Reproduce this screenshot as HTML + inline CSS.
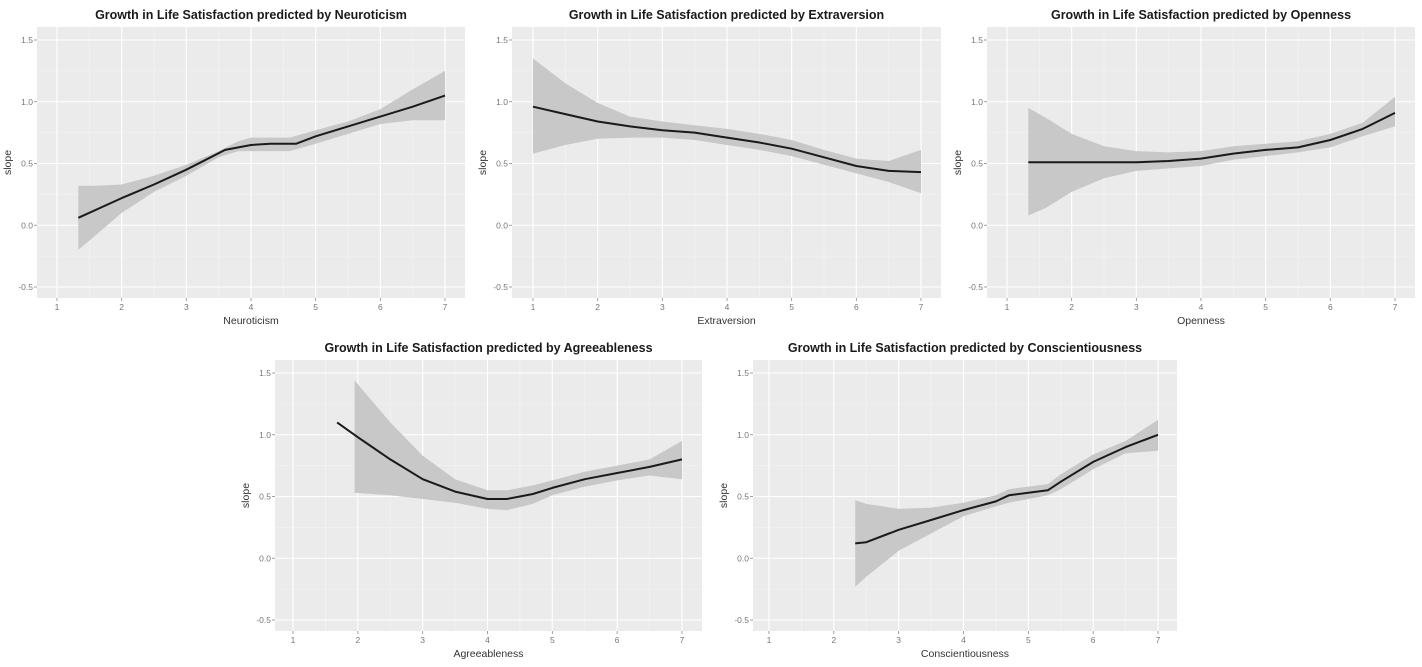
<!DOCTYPE html>
<html><head><meta charset="utf-8">
<style>
html,body{margin:0;padding:0;background:#fff;}
svg{display:block;font-family:"Liberation Sans",Arial,sans-serif;}
.title{font-size:12.5px;font-weight:bold;fill:#1a1a1a;}
.tick{font-size:8.5px;fill:#777;}
.atitle{font-size:10.5px;fill:#333;}
</style></head>
<body>
<svg id="chart" width="1422" height="667" viewBox="0 0 1422 667"></svg>
<script>
// ---- data (one set of small arrays per panel) ----
const neuroX = [1.33,2,2.5,3,3.3,3.6,4,4.3,4.7,5,5.5,6,6.5,7];
const neuroY = [0.06,0.22,0.33,0.45,0.53,0.61,0.65,0.66,0.66,0.72,0.80,0.88,0.96,1.05];
const neuroBandX = [1.33,1.6,2,2.5,3,3.5,3.8,4,4.6,5,5.5,6,6.5,7];
const neuroLo = [-0.2,-0.08,0.1,0.27,0.4,0.55,0.6,0.6,0.6,0.66,0.74,0.82,0.85,0.85];
const neuroHi = [0.32,0.32,0.33,0.40,0.49,0.60,0.68,0.71,0.71,0.77,0.84,0.94,1.10,1.25];

const extraX = [1,1.5,2,2.5,3,3.5,4,4.5,5,5.5,6,6.5,7];
const extraY = [0.96,0.90,0.84,0.80,0.77,0.75,0.71,0.67,0.62,0.55,0.48,0.44,0.43];
const extraBandX = [1,1.5,2,2.5,3,3.5,4,4.5,5,5.5,6,6.5,7];
const extraLo = [0.58,0.65,0.70,0.71,0.71,0.69,0.65,0.61,0.56,0.49,0.42,0.35,0.26];
const extraHi = [1.35,1.15,0.99,0.88,0.84,0.81,0.78,0.74,0.69,0.61,0.54,0.52,0.61];

const openX = [1.33,2,3,3.5,4,4.5,5,5.5,6,6.5,7];
const openY = [0.51,0.51,0.51,0.52,0.54,0.58,0.61,0.63,0.69,0.78,0.91];
const openBandX = [1.33,1.6,2,2.5,3,3.5,4,4.5,5,5.5,6,6.5,7];
const openLo = [0.08,0.14,0.27,0.38,0.44,0.46,0.48,0.53,0.56,0.59,0.63,0.72,0.80];
const openHi = [0.95,0.87,0.74,0.64,0.60,0.59,0.60,0.64,0.66,0.68,0.74,0.83,1.04];

const agreeX = [1.68,2,2.5,3,3.5,4,4.3,4.7,5,5.5,6,6.5,7];
const agreeY = [1.10,0.98,0.80,0.64,0.54,0.48,0.48,0.52,0.57,0.64,0.69,0.74,0.80];
const agreeBandX = [1.95,2.5,3,3.5,4,4.3,4.7,5,5.5,6,6.5,7];
const agreeLo = [0.53,0.51,0.48,0.45,0.40,0.39,0.44,0.51,0.58,0.63,0.67,0.64];
const agreeHi = [1.44,1.10,0.83,0.64,0.55,0.55,0.59,0.63,0.70,0.75,0.80,0.95];

const consX = [2.33,2.5,3,3.5,4,4.5,4.7,5,5.3,5.5,6,6.5,7];
const consY = [0.12,0.13,0.23,0.31,0.39,0.46,0.51,0.53,0.55,0.62,0.78,0.90,1.00];
const consBandX = [2.33,2.5,3,3.5,4,4.5,4.7,5,5.3,5.5,6,6.5,7];
const consLo = [-0.23,-0.15,0.06,0.20,0.34,0.42,0.45,0.48,0.51,0.56,0.72,0.85,0.87];
const consHi = [0.47,0.44,0.40,0.41,0.45,0.51,0.56,0.58,0.60,0.68,0.84,0.95,1.12];

const xTicks = [1,2,3,4,5,6,7];
const yTicks = [-0.5,0,0.5,1,1.5];
const yTickLabels = ["-0.5","0.0","0.5","1.0","1.5"];

const panels = [
 {key:"neuroticism",name:"Neuroticism",L:37,R:465,T:27,B:298,x1:57,x7:445,yTop:40,yBot:287,lx:neuroX,ly:neuroY,bx:neuroBandX,lo:neuroLo,hi:neuroHi},
 {key:"extraversion",name:"Extraversion",L:512,R:941,T:27,B:298,x1:533,x7:921,yTop:40,yBot:287,lx:extraX,ly:extraY,bx:extraBandX,lo:extraLo,hi:extraHi},
 {key:"openness",name:"Openness",L:987,R:1415,T:27,B:298,x1:1007,x7:1395,yTop:40,yBot:287,lx:openX,ly:openY,bx:openBandX,lo:openLo,hi:openHi},
 {key:"agreeableness",name:"Agreeableness",L:275,R:702,T:360,B:631,x1:293,x7:682,yTop:373,yBot:620,lx:agreeX,ly:agreeY,bx:agreeBandX,lo:agreeLo,hi:agreeHi},
 {key:"conscientiousness",name:"Conscientiousness",L:753,R:1177,T:360,B:631,x1:769,x7:1158,yTop:373,yBot:620,lx:consX,ly:consY,bx:consBandX,lo:consLo,hi:consHi}
];

const NS="http://www.w3.org/2000/svg";
const svg=document.getElementById("chart");
function mk(tag,attrs,parent){const e=document.createElementNS(NS,tag);for(const k in attrs)e.setAttribute(k,attrs[k]);parent.appendChild(e);return e;}

panels.forEach(p=>{
  const g=mk("g",{},svg);
  
  
  const sx=v=>p.x1+(v-1)*(p.x7-p.x1)/6;
  const sy=v=>p.yBot-(v+0.5)*(p.yBot-p.yTop)/2;
  const bg=mk("rect",{x:p.L,y:p.T,width:p.R-p.L,height:p.B-p.T,fill:"#ebebeb"},g);
  
  
  // minor grid
  for(let v=0.5;v<=7.5;v+=1){const x=sx(v);if(x>p.L&&x<p.R)mk("line",{x1:x,x2:x,y1:p.T,y2:p.B,stroke:"#f5f5f5","stroke-width":0.6},g);}
  for(let v=-0.75;v<=1.75;v+=0.5){const y=sy(v);if(y>p.T&&y<p.B)mk("line",{x1:p.L,x2:p.R,y1:y,y2:y,stroke:"#f5f5f5","stroke-width":0.6},g);}
  // major grid + ticks
  xTicks.forEach(v=>{const x=sx(v);
    mk("line",{x1:x,x2:x,y1:p.T,y2:p.B,stroke:"#fff","stroke-width":1.1},g);
    mk("line",{x1:x,x2:x,y1:p.B,y2:p.B+3,stroke:"#888","stroke-width":0.8},g);
    const t=mk("text",{x:x,y:p.B+12,"text-anchor":"middle",class:"tick"},g);t.textContent=v;
    
    
  });
  yTicks.forEach((v,i)=>{const y=sy(v);
    mk("line",{x1:p.L,x2:p.R,y1:y,y2:y,stroke:"#fff","stroke-width":1.1},g);
    mk("line",{x1:p.L-3,x2:p.L,y1:y,y2:y,stroke:"#888","stroke-width":0.8},g);
    const t=mk("text",{x:p.L-4,y:y+3,"text-anchor":"end",class:"tick"},g);t.textContent=yTickLabels[i];
    
    
  });
  // ribbon
  let d="";
  p.bx.forEach((v,i)=>{d+=(i?"L":"M")+sx(v).toFixed(1)+","+sy(p.hi[i]).toFixed(1);});
  for(let i=p.bx.length-1;i>=0;i--)d+="L"+sx(p.bx[i]).toFixed(1)+","+sy(p.lo[i]).toFixed(1);
  const band=mk("path",{d:d+"Z",fill:"#c8c8c8"},g);
  
  
  // line
  let ld="";
  p.lx.forEach((v,i)=>{ld+=(i?"L":"M")+sx(v).toFixed(1)+","+sy(p.ly[i]).toFixed(1);});
  const ln=mk("path",{d:ld,fill:"none",stroke:"#1a1a1a","stroke-width":2,"stroke-linejoin":"round"},g);
  
  
  // titles
  const tt=mk("text",{x:(p.L+p.R)/2,y:p.T-8,"text-anchor":"middle",class:"title"},g);
  tt.textContent="Growth in Life Satisfaction predicted by "+p.name;
  
  
  const xt=mk("text",{x:(p.L+p.R)/2,y:p.B+26,"text-anchor":"middle",class:"atitle"},g);
  xt.textContent=p.name;
  
  
  const yx=p.L-26, yy=(p.T+p.B)/2;
  const yt=mk("text",{x:yx,y:yy,"text-anchor":"middle",class:"atitle",transform:"rotate(-90 "+yx+" "+yy+")"},g);
  yt.textContent="slope";
  
  
});
</script>
</body></html>
